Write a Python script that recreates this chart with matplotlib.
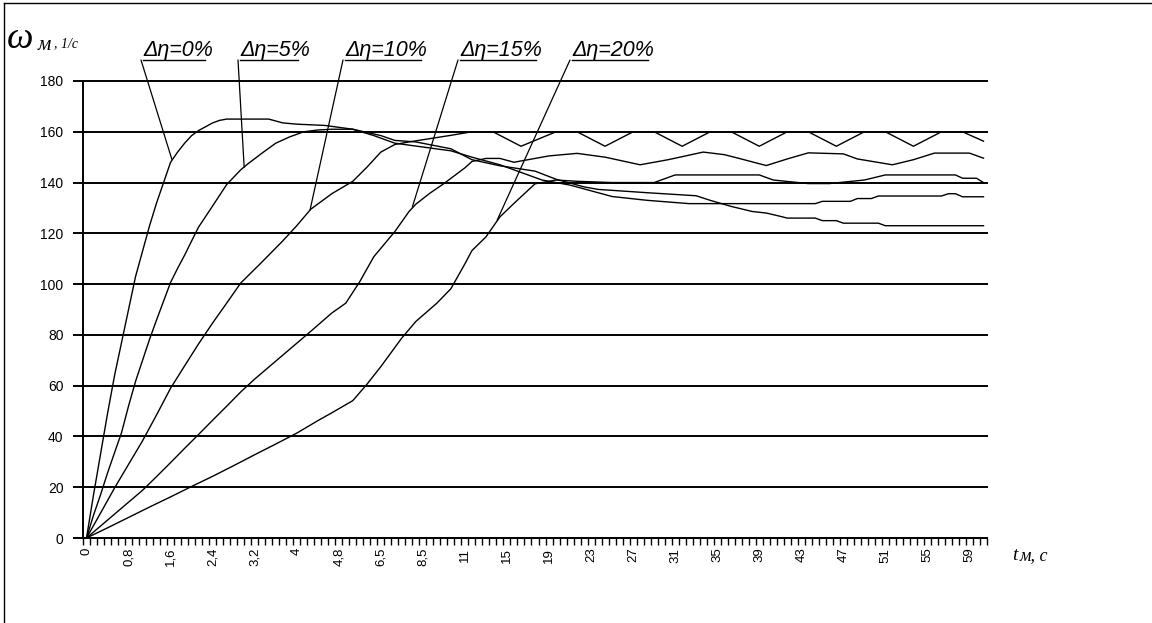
import matplotlib
matplotlib.use("Agg")
import matplotlib.pyplot as plt
from matplotlib.lines import Line2D

W, H = 1152, 623

# x категории (подписи через каждые 6 отсчётов)
n_points = 129
tick_labels = ["0", "0,8", "1,6", "2,4", "3,2", "4", "4,8", "6,5", "8,5", "11", "15",
               "19", "23", "27", "31", "35", "39", "43", "47", "51", "55", "59"]

# Δη = 0%
idx_0 = [0, 1, 2, 3, 4, 5, 6, 7, 8, 9, 10, 11, 12, 13, 14, 15, 16, 17, 18, 19, 20, 26, 28,
         30, 34, 38, 42, 44, 47, 52, 55, 59, 64, 67, 71, 73, 80, 87, 89, 92, 95, 97, 99,
         100, 104, 105, 107, 108, 113, 114, 128]
w_0 = [0, 17, 33, 49, 64, 77, 90, 103, 113, 123, 132, 140, 148, 152, 155.5, 158.5, 160.5,
       162, 163.5, 164.5, 165, 165, 163.5, 163, 162.5, 161, 158.5, 156.6, 156, 153.3, 149,
       146.6, 144.5, 141.3, 138.3, 137.3, 136, 134.8, 133, 130.6, 128.6, 128, 126.7, 126,
       126, 125, 125, 124, 124, 123, 123]

# Δη = 5%
idx_5 = [0, 1, 2, 3, 4, 5, 6, 7, 8, 9, 10, 11, 12, 13, 14, 15, 16, 18, 20, 22, 23, 25, 27,
         29, 31, 33, 35, 38, 41, 44, 48, 52, 55, 59, 62, 65, 69, 75, 80, 86, 104, 105, 109,
         110, 112, 113, 122, 123, 124, 125, 128]
w_5 = [0, 9, 17, 25.6, 33.6, 41.5, 52, 61.7, 70, 78.3, 85.9, 93.3, 100.7, 106.2, 111.4,
       117, 122.5, 130.8, 139.2, 145, 147.3, 151.5, 155.5, 158, 160, 160.7, 161, 161, 158.5,
       155.5, 154, 152.5, 150, 147, 144, 141, 139, 134.5, 133, 131.7, 131.7, 132.6, 132.6,
       133.7, 133.7, 134.7, 134.7, 135.6, 135.6, 134.4, 134.4]

# Δη = 10%
idx_10 = [0, 2, 4, 6, 8, 10, 12, 14, 16, 18, 20, 22, 25, 28, 30, 32, 35, 38, 40, 42, 44, 46,
          49, 52, 55, 58, 62, 67, 70, 74, 78, 81, 85, 89, 92, 96, 100, 103, 107, 111, 114,
          118, 122, 125, 128]
w_10 = [0, 9.8, 19.7, 29, 38.3, 48.5, 59, 67.8, 76.5, 84.7, 92.5, 100.4, 108.6, 117, 123,
        129.5, 135.6, 140.5, 146, 152, 155, 156, 157.3, 158.6, 160, 160, 154.3, 160, 160,
        154.3, 160, 160, 154.3, 160, 160, 154.3, 160, 160, 154.3, 160, 160, 154.3, 160, 160,
        156.3]

# Δη = 15%
idx_15 = [0, 2, 4, 6, 8, 10, 12, 14, 16, 18, 20, 22, 24, 26, 28, 30, 32, 35, 37, 39, 41, 44,
          46, 47, 49, 51, 54, 55, 57, 59, 61, 66, 70, 74, 79, 83, 88, 91, 93, 97, 100, 103,
          108, 110, 115, 118, 121, 126, 128]
w_15 = [0, 4.7, 9.4, 14.1, 18.8, 24.2, 29.7, 35.3, 40.8, 46.4, 51.9, 57.5, 62.6, 67.3, 72,
        76.7, 81.4, 88.6, 92.5, 101, 110.8, 120.7, 128.5, 131.5, 135.8, 139.6, 145.8, 148.3,
        149.5, 149.5, 148, 150.5, 151.5, 150, 147, 149, 152, 151, 149.6, 146.7, 149.3,
        151.7, 151.3, 149.3, 147, 149, 151.6, 151.6, 149.6]

# Δη = 20%
idx_20 = [0, 3, 6, 9, 12, 15, 18, 21, 24, 27, 30, 33, 35, 38, 40, 42, 45, 47, 50, 52, 54,
          55, 57, 59, 61, 64, 67, 70, 75, 81, 84, 96, 98, 103, 106, 111, 114, 124, 125, 127,
          128]
w_20 = [0, 4, 8.1, 12.2, 16.2, 20.3, 24.3, 28.5, 32.8, 37, 41.3, 46.2, 49.3, 54.1, 60.5,
        67.5, 78.8, 85.3, 92.5, 98.2, 108, 113.2, 118.6, 126.5, 131.8, 139.5, 141, 140.5,
        140, 140, 143, 143, 141, 139.6, 139.6, 141, 143, 143, 141.7, 141.7, 140]

series = [(idx_0, w_0), (idx_5, w_5), (idx_10, w_10), (idx_15, w_15), (idx_20, w_20)]
legend_text = ["Δη=0%", "Δη=5%", "Δη=10%", "Δη=15%", "Δη=20%"]
# точки на кривых, куда идут выноски
leader_pts = [(12.2, 149), (22.5, 146), (31.9, 129.2), (46.5, 130.4), (58.6, 125.2)]

fig = plt.figure(figsize=(W / 100, H / 100), dpi=100)
ax = fig.add_axes([83 / W, 1 - 538 / H, 904 / W, 457 / H])

for i, v in series:
    ax.plot(i, v, color="black", lw=1.0)

ax.set_xlim(-0.5, n_points - 0.5)
ax.set_ylim(0, 180)
ax.set_yticks(range(0, 181, 20))
ax.yaxis.grid(True, color="black", lw=1.4)
ax.set_axisbelow(True)
for gl in ax.get_ygridlines():
    gl.set_clip_on(False)

ax.set_xticks(range(0, n_points, 6))
ax.set_xticklabels(tick_labels, rotation=90, fontsize=9.5, family="Liberation Sans")
ax.set_xticks([k - 0.5 for k in range(n_points + 1)], minor=True)
ax.tick_params(axis="x", which="major", length=0, pad=7)
ax.tick_params(axis="x", which="minor", length=5, width=1, color="black")
ax.tick_params(axis="y", length=7, width=1.4, labelsize=10, pad=7)
for lab in ax.get_yticklabels():
    lab.set_family("Liberation Sans")

for s in ["top", "right"]:
    ax.spines[s].set_visible(False)
ax.spines["left"].set_linewidth(1.4)
ax.spines["bottom"].set_linewidth(1.4)

# подписи кривых с выносками
label_x = [143, 240, 345, 460, 572]
label_w = [62, 58, 76, 76, 76]
for txt, lx, lw_, pt in zip(legend_text, label_x, label_w, leader_pts):
    fig.text(lx / W, 1 - 56 / H, txt, fontsize=15.5, style="italic",
             family="Liberation Sans", va="baseline", ha="left")
    fig.add_artist(Line2D([lx / W, (lx + lw_) / W], [1 - 60 / H, 1 - 60 / H],
                          color="black", lw=1.0, transform=fig.transFigure))
    ax.annotate("", xy=pt, xycoords="data", xytext=(lx - 2, H - 60),
                textcoords="figure pixels",
                arrowprops=dict(arrowstyle="-", lw=0.9, color="black",
                                shrinkA=0, shrinkB=0))

# подписи осей
fig.text(7 / W, 1 - 48 / H, "ω", fontsize=27, style="italic",
         family="Liberation Serif", va="baseline")
fig.text(38 / W, 1 - 50 / H, "м", fontsize=15, style="italic",
         family="Liberation Serif", va="baseline")
fig.text(54 / W, 1 - 47 / H, ", 1/c", fontsize=10, style="italic",
         family="Liberation Serif", va="baseline")
fig.text(1012 / W, 1 - 560 / H, "t", fontsize=14, style="italic",
         family="Liberation Serif", va="baseline")
fig.text(1020 / W, 1 - 560 / H, "м, c", fontsize=13, style="italic",
         family="Liberation Serif", va="baseline")

# рамка диаграммы
fig.add_artist(Line2D([4 / W, 4 / W], [0, 1 - 3 / H], color="black", lw=1.0,
                      transform=fig.transFigure))
fig.add_artist(Line2D([4 / W, 1], [1 - 3 / H, 1 - 3 / H], color="black", lw=1.0,
                      transform=fig.transFigure))

fig.savefig("out.png", dpi=100)
